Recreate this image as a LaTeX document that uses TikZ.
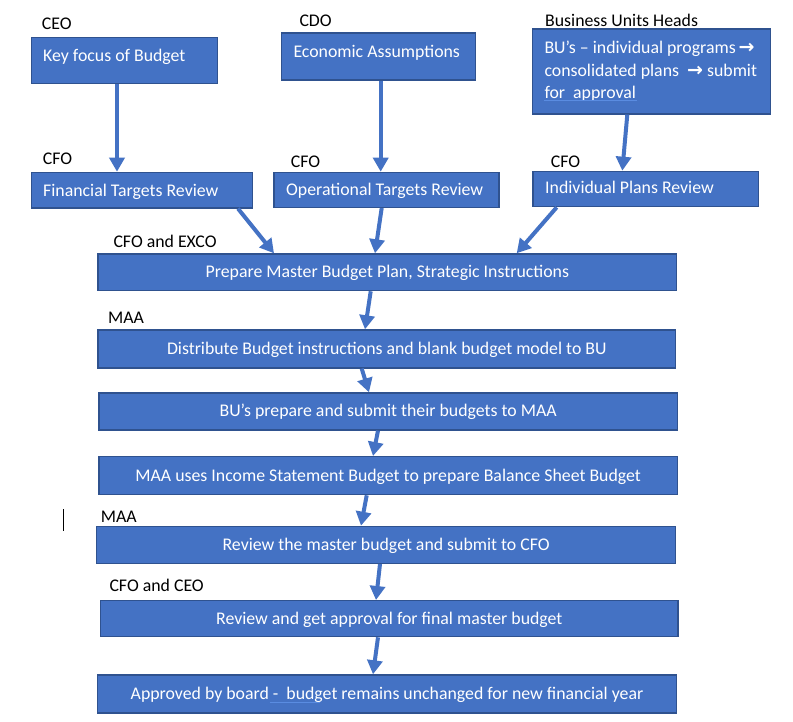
\documentclass[tikz,border=0pt]{standalone}
\usepackage{fontspec}
\setmainfont{Carlito}
\newfontfamily\symfont{DejaVu Sans}
\usetikzlibrary{arrows.meta}
\definecolor{boxblue}{RGB}{68,114,196}
\definecolor{boxedge}{RGB}{47,82,143}
\definecolor{ulblue}{RGB}{90,140,225}
\newcommand{\rarr}{{\symfont\bfseries\fontsize{19}{20}\selectfont →}}
\tikzset{
  every node/.style={font=\fontsize{17.8}{21}\selectfont},
  box/.style={draw=boxedge, fill=boxblue, line width=1.3pt, inner sep=0pt, anchor=north west,
              text=white, text height=12pt, text depth=1pt},
  wtext/.style={text=white, inner sep=0pt, anchor=base west},
  ltext/.style={text=black, inner sep=0pt, anchor=base west},
  arr/.style={draw=boxblue, line width=4pt, -{Triangle[width=15pt,length=14pt]}},
}
\begin{document}
\begin{tikzpicture}[x=1pt,y=-1pt]
\useasboundingbox[fill=white] (0,0) rectangle (793,721);

% top row boxes
\node[box, minimum width=186pt, minimum height=46pt] (b1) at (30.7,36.7) {};
\node[box, minimum width=194.3pt, minimum height=47pt] (b2) at (280.7,32.3) {};
\node[box, minimum width=238pt, minimum height=85pt] (b3) at (531.7,28.3) {};
\node[wtext] (t1) at (43,61.2) {Key focus of Budget};
\node[wtext] (t2) at (293.3,57.2) {Economic Assumptions};
\node[wtext] (t3a) at (544.3,53.8) {BU’s – individual programs\,\rarr};
\node[wtext] (t3b) at (544.3,76.2) {consolidated plans \ \rarr\ submit};
\node[wtext] (t3c) at (544.3,98.8) {for \ approval};
\draw[ulblue, line width=1pt] (544.3,100.5) -- (636.7,100.5);

\node[ltext] (l1) at (41.7,29.5) {CEO};
\node[ltext] (l2) at (299.3,26.2) {CDO};
\node[ltext] (l3) at (545,26.2) {Business Units Heads};

% second row boxes
\node[box, minimum width=221pt, minimum height=35.6pt] (b4) at (30.7,171.7) {};
\node[box, minimum width=225pt, minimum height=35pt] (b5) at (273.3,171.7) {};
\node[box, minimum width=225.4pt, minimum height=35.3pt] (b6) at (532.3,170.7) {};
\node[wtext] (t4) at (43,196.2) {Financial Targets Review};
\node[wtext] (t5) at (286,195.5) {Operational Targets Review};
\node[wtext] (t6) at (545,193.8) {Individual Plans Review};
\node[ltext] (l4) at (42.7,164.8) {CFO};
\node[ltext] (l5) at (290.7,167.2) {CFO};
\node[ltext] (l6) at (550.7,167.2) {CFO};

% main column
\node[box, minimum width=578.7pt, minimum height=36.7pt] (b7) at (97.3,253.3) {Prepare Master Budget Plan, Strategic Instructions};
\node[box, minimum width=577.7pt, minimum height=38pt] (b8) at (97.3,329.3) {Distribute Budget instructions and blank budget model to BU};
\node[box, minimum width=578.4pt, minimum height=37pt] (b9) at (98.3,392.3) {BU’s prepare and submit their budgets to MAA};
\node[box, minimum width=578.4pt, minimum height=38pt] (b10) at (98.3,456) {MAA uses Income Statement Budget to prepare Balance Sheet Budget};
\node[box, minimum width=579pt, minimum height=37pt] (b11) at (96,525.7) {Review the master budget and submit to CFO};
\node[box, minimum width=577.3pt, minimum height=36pt] (b12) at (100,600) {Review and get approval for final master budget};
\node[box, minimum width=579.3pt, minimum height=38pt] (b13) at (96.7,674.3) {Approved by board - \ budget remains unchanged for new financial year};
\draw[ulblue, line width=1pt] ([xshift=173pt,yshift=-28pt]b13.north west) -- ([xshift=223pt,yshift=-28pt]b13.north west);

\node[ltext] (l7) at (113.3,247.2) {CFO and EXCO};
\node[ltext] (l8) at (108,323.5) {MAA};
\node[ltext] (l9) at (100.7,522.2) {MAA};
\node[ltext] (l10) at (109.3,591.5) {CFO and CEO};

% text cursor mark
\draw[black, line width=1pt] (63.3,509.3) -- (63.3,530.7);

% arrows
\draw[arr] ([xshift=86.3pt]b1.south west) -- ([xshift=86.3pt]b4.north west);
\draw[arr] ([xshift=100pt]b2.south west) -- ([xshift=107.4pt]b5.north west);
\draw[arr] ([xshift=95.6pt]b3.south west) -- ([xshift=90pt]b6.north west);
\draw[arr] ([xshift=207.3pt]b4.south west) -- ([xshift=176.7pt]b7.north west);
\draw[arr] ([xshift=108.4pt]b5.south west) -- ([xshift=277.7pt]b7.north west);
\draw[arr] ([xshift=24.4pt]b6.south west) -- ([xshift=419.4pt]b7.north west);
\draw[arr] ([xshift=273.4pt]b7.south west) -- ([xshift=267.7pt]b8.north west);
\draw[arr] ([xshift=264.4pt]b8.south west) -- ([xshift=270.7pt]b9.north west);
\draw[arr] ([xshift=279.7pt]b9.south west) -- ([xshift=274.7pt]b10.north west);
\draw[arr] ([xshift=268.4pt]b10.south west) -- ([xshift=265pt]b11.north west);
\draw[arr] ([xshift=284pt]b11.south west) -- ([xshift=276pt]b12.north west);
\draw[arr] ([xshift=278pt]b12.south west) -- ([xshift=276.3pt]b13.north west);
\end{tikzpicture}
\end{document}
